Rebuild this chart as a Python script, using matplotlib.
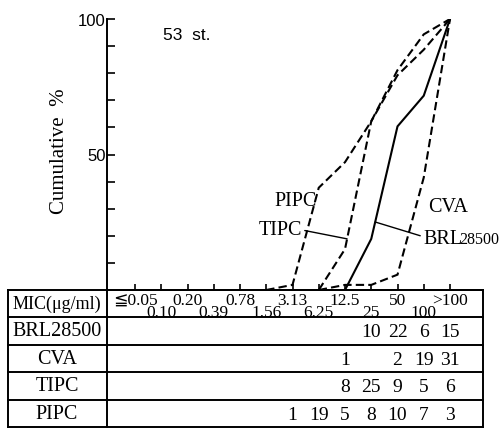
import numpy as np
import matplotlib
matplotlib.use("Agg")
import matplotlib.pyplot as plt
from matplotlib.transforms import blended_transform_factory

# MIC classes (µg/ml) and number of strains per class for each drug
mic_labels = ["≦0.05", "0.10", "0.20", "0.39", "0.78", "1.56", "3.13",
              "6.25", "12.5", "25", "50", "100", ">100"]
n_strains = 53
brl28500 = [None, None, None, None, None, None, None, None, None, 10, 22, 6, 15]
cva = [None, None, None, None, None, None, None, None, 1, None, 2, 19, 31]
tipc = [None, None, None, None, None, None, None, None, 8, 25, 9, 5, 6]
pipc = [None, None, None, None, None, None, 1, 19, 5, 8, 10, 7, 3]

drugs = ["BRL28500", "CVA", "TIPC", "PIPC"]
counts = [brl28500, cva, tipc, pipc]

SERIF = ["Liberation Serif", "DejaVu Serif", "DejaVu Sans"]
SANS = ["Liberation Sans", "DejaVu Sans"]

W, H = 499, 431
fig = plt.figure(figsize=(W / 100, H / 100), dpi=100)


def rect(l, t, r, b):
    return [l / W, 1 - b / H, (r - l) / W, (b - t) / H]


# pixel-space layer for the table grid
tab = fig.add_axes([0, 0, 1, 1], zorder=0)
tab.set_xlim(0, W)
tab.set_ylim(H, 0)
tab.axis("off")

ax = fig.add_axes(rect(107, 20, 483, 291), zorder=1)
ax.patch.set_alpha(0)
ax.set_xlim(-1.067, 13.257)
ax.set_ylim(0, 100)
for s in ("top", "right"):
    ax.spines[s].set_visible(False)
for s in ("left", "bottom"):
    ax.spines[s].set_linewidth(1.4)

ax.set_xticks(np.arange(len(mic_labels)))
ax.set_xticklabels([])
ax.tick_params(axis="x", direction="in", length=4, width=1.2)
ax.set_yticks(np.arange(0, 101, 10))
ax.set_yticklabels(["" if v not in (50, 100) else str(v) for v in range(0, 101, 10)],
                   family=SANS, fontsize=12)
ax.tick_params(axis="y", direction="in", length=6, width=1.2, pad=1)

px = tab.transData
ax.text(163, 36, "53  st.", family=SANS, fontsize=12.5, va="center", ha="left",
        transform=px)
fig.text(60 / W, 1 - 151 / H, "Cumulative  %", rotation=90, family=SERIF,
         fontsize=15, ha="center", va="center")

# cumulative curves
idx = np.arange(len(mic_labels))
curves = {}
for name, c in zip(drugs, counts):
    vals = np.array([0 if v is None else v for v in c], dtype=float)
    cum = np.cumsum(vals) / n_strains * 100
    first = int(np.argmax(vals > 0))
    xs = idx[first - 1:]
    ys = cum[first - 1:]
    curves[name] = (xs, ys)
    style = "-" if name == "BRL28500" else (0, (4, 2))
    ax.plot(xs, ys, color="black", lw=1.5, linestyle=style,
            solid_joinstyle="miter", dash_joinstyle="miter")

lbl_kw = dict(family=SERIF, fontsize=14.5, color="black")


def on_curve(name, x):
    xs, ys = curves[name]
    return x, float(np.interp(x, xs, ys))


ax.text(317, 202, "PIPC", ha="right", va="center", transform=px, **lbl_kw)
ax.text(428, 208, "CVA", ha="left", va="center", transform=px, **lbl_kw)
ax.annotate("TIPC", xy=on_curve("TIPC", 8.08), xycoords="data",
            xytext=(302, 231), textcoords=px, ha="right", va="center",
            arrowprops=dict(arrowstyle="-", lw=1.0, color="black",
                            shrinkA=0, shrinkB=0, relpos=(1, 0.5)), **lbl_kw)
ax.annotate("BRL", xy=on_curve("BRL28500", 9.15), xycoords="data",
            xytext=(423, 244), textcoords=px, ha="left", va="baseline",
            arrowprops=dict(arrowstyle="-", lw=1.0, color="black",
                            shrinkA=0, shrinkB=0, relpos=(0, 0.6)), **lbl_kw)
ax.text(459, 244, "28500", ha="left", va="baseline", transform=px,
        family=SERIF, fontsize=11.5)

# table grid
row_lines = [291, 318, 346, 373, 401, 428]
lw = 1.4
for y in row_lines:
    tab.plot([8, 483], [y, y], color="black", lw=lw, solid_capstyle="projecting")
for x in (8, 107, 483):
    tab.plot([x, x], [291, 428], color="black", lw=lw, solid_capstyle="projecting")

trans = blended_transform_factory(ax.transData, px)

# header: MIC classes on two staggered lines
tab.text(57, 304.5, "MIC(μg/ml)", family=SERIF, fontsize=13, ha="center", va="center")
for i, lab in enumerate(mic_labels):
    y = 301 if i % 2 == 0 else 313
    ax.text(i, y, lab, transform=trans, family=SERIF, fontsize=12.5,
            ha="center", va="center")

# body rows
for r, (name, c) in enumerate(zip(drugs, counts)):
    yc = (row_lines[r + 1] + row_lines[r + 2]) / 2
    tab.text(57, yc, name, family=SERIF, fontsize=14.5, ha="center", va="center")
    for i, v in enumerate(c):
        if v is not None:
            ax.text(i, yc + 1, str(v), transform=trans, family=SERIF,
                    fontsize=14, ha="center", va="center")

fig.savefig("out.png", dpi=100)
